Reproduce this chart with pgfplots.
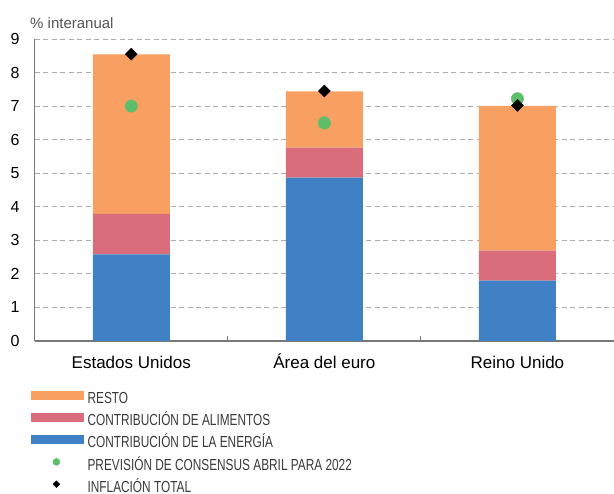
\documentclass[border=0pt]{standalone}
\usepackage{fontspec}
\setmainfont{Liberation Sans}
\newfontfamily\condfont[FakeStretch=0.74]{Liberation Sans}
\usepackage{pgfplots}
\pgfplotsset{compat=1.18}
\usetikzlibrary{calc}
\definecolor{cResto}{HTML}{F7A062}
\definecolor{cFood}{HTML}{D96D7B}
\definecolor{cEnergy}{HTML}{4080C4}
\definecolor{cGreen}{HTML}{5CBE6A}
\definecolor{gridgray}{HTML}{ADADAD}
\definecolor{axisgray}{HTML}{777777}
\definecolor{textgray}{HTML}{3A3A3A}
\definecolor{titlegray}{HTML}{555555}
\begin{document}
\begin{tikzpicture}
\begin{axis}[name=ax, scale only axis, width=579.3bp, height=302bp,
  xmin=-0.5, xmax=2.5, ymin=0, ymax=9,
  ybar stacked, bar width=77bp,
  axis lines=left, axis line style={draw=axisgray, line width=1.3bp, -},
  ytick={0,1,...,9}, xtick={0,1,2},
  xticklabels={Estados Unidos, Área del euro, Reino Unido},
  major tick length=0pt,
  extra x ticks={0.5,1.5}, extra x tick labels={},
  extra x tick style={major tick length=5bp, tick align=inside, tick style={draw=axisgray, line width=1bp}},
  ymajorgrids, grid style={dash pattern=on 5bp off 3.5bp, gridgray, line width=0.9bp},
  /pgf/number format/assume math mode=true,
  yticklabel style={font=\fontsize{16bp}{18bp}\selectfont, text=black, inner sep=0pt, xshift=-15bp},
  xticklabel style={font=\fontsize{17bp}{20bp}\selectfont, text=black, inner sep=0pt, anchor=base, yshift=-28bp},
  legend style={at={(-0.0064,-0.1464)}, anchor=north west, draw=none, fill=none, inner sep=0pt,
    row sep=3.1bp, column sep=4bp, cells={anchor=west},
    nodes={inner sep=0pt, text height=17.7bp, text depth=1.5bp},
    font=\condfont\fontsize{16bp}{18bp}\selectfont, text=textgray},
]
\addlegendimage{legend image code/.code={\fill[cResto] (0bp,-4bp) rectangle (52bp,4bp);}}
\addlegendentry{RESTO}
\addlegendimage{legend image code/.code={\fill[cFood] (0bp,-4bp) rectangle (52bp,4bp);}}
\addlegendentry{CONTRIBUCIÓN DE ALIMENTOS}
\addlegendimage{legend image code/.code={\fill[cEnergy] (0bp,-4bp) rectangle (52bp,4bp);}}
\addlegendentry{CONTRIBUCIÓN DE LA ENERGÍA}
\addlegendimage{legend image code/.code={\path[draw=none,fill=none] (0bp,0bp) rectangle (52bp,0bp); \fill[cGreen] (25bp,0) circle (3.5bp);}}
\addlegendentry{PREVISIÓN DE CONSENSUS ABRIL PARA 2022}
\addlegendimage{legend image code/.code={\path[draw=none,fill=none] (0bp,0bp) rectangle (52bp,0bp); \fill[black] (25bp,3.4bp) -- (28.4bp,0) -- (25bp,-3.4bp) -- (21.6bp,0) -- cycle;}}
\addlegendentry{INFLACIÓN TOTAL}
\addplot[fill=cEnergy, draw=none, forget plot] coordinates {(0,2.58) (1,4.87) (2,1.80)};
\addplot[fill=cFood, draw=none, forget plot] coordinates {(0,1.21) (1,0.89) (2,0.89)};
\addplot[fill=cResto, draw=none, forget plot] coordinates {(0,4.75) (1,1.68) (2,4.32)};
\end{axis}
\begin{axis}[scale only axis, width=579.3bp, height=302bp,
  xmin=-0.5, xmax=2.5, ymin=0, ymax=9, hide axis, clip=false]
\addplot[only marks, mark=*, mark size=6.2bp, color=cGreen] coordinates {(0,7.0) (1,6.5) (2,7.22)};
\addplot[only marks, mark=square*, mark size=4.25bp, mark options={rotate=45}, color=black] coordinates {(0,8.55) (1,7.45) (2,7.02)};
\end{axis}
\node[anchor=base west, font=\fontsize{15bp}{17bp}\selectfont, text=titlegray, inner sep=0pt] at ($(ax.north west)+(-4.7bp,10.7bp)$) {\% interanual};
\pgfresetboundingbox
\path ($(ax.south west)+(-34.7bp,-153bp)$) rectangle ($(ax.north east)+(0,39bp)$);
\end{tikzpicture}
\end{document}
